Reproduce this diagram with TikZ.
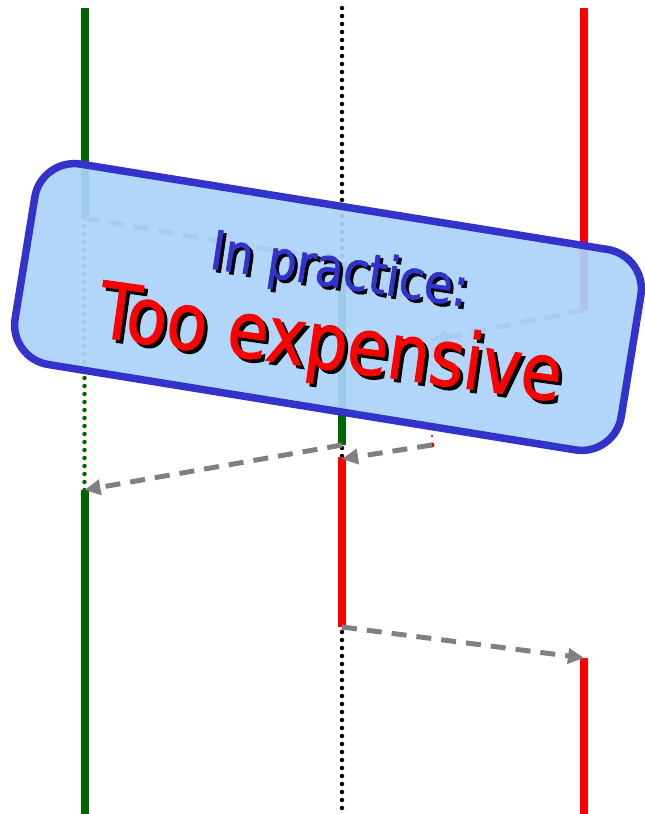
\documentclass[tikz,border=0pt]{standalone}
\usepackage{fontspec}
\newfontfamily\cond[FakeBold=1.2]{DejaVu Sans Condensed}
\usetikzlibrary{arrows.meta}
\definecolor{dgreen}{RGB}{0,102,0}
\definecolor{bblue}{RGB}{51,51,204}
\definecolor{boxfill}{RGB}{172,210,250}
\definecolor{agray}{RGB}{128,128,128}
\begin{document}
\begin{tikzpicture}[x=1pt,y=-1pt,
  solidline/.style={line width=8pt},
  dotline/.style={line width=4.5pt, line cap=round, dash pattern=on 0pt off 8pt},
  thindot/.style={line width=2.5pt, line cap=round, dash pattern=on 0pt off 8pt},
  msg/.style={draw=agray, line width=5pt, dash pattern=on 15pt off 10pt, -{Triangle[length=16pt,width=15pt,fill=agray]}},
  banner/.style={draw=bblue, fill=boxfill, fill opacity=0.93, line width=7.5pt, rounded corners=40pt, minimum width=614pt, minimum height=203pt, inner sep=0pt, rotate=-9.2},
  small/.style={font=\cond\fontsize{54}{60}\selectfont, anchor=base, inner sep=0pt, rotate=-8.5, xscale=0.95},
  big/.style={font=\cond\fontsize{78}{84}\selectfont, anchor=base, inner sep=0pt, rotate=-8, xscale=0.945},
]
\useasboundingbox (0,0) rectangle (645,814);
% coordinates
\coordinate (Ltop) at (84.5,8);
\coordinate (La) at (84.5,218);
\coordinate (Lb) at (84.5,490);
\coordinate (Lbot) at (84.5,816);
\coordinate (Mtop) at (342,8);
\coordinate (Ma) at (342,262);
\coordinate (Mb) at (342,445);
\coordinate (Mc) at (342,459);
\coordinate (Md) at (342,627);
\coordinate (Mbot) at (342,816);
\coordinate (Rtop) at (584,8);
\coordinate (Ra) at (584,310);
\coordinate (Rb) at (584,658);
\coordinate (Rbot) at (584,816);
\coordinate (Xa) at (432,340);
\coordinate (Xb) at (432,445);
% left process
\draw[dgreen, solidline] (Ltop) -- (La);
\draw[dgreen, dotline] (La) -- (Lb);
\draw[dgreen, solidline] (Lb) -- (Lbot);
% middle process
\draw[black, dotline] (Mtop) -- (Mbot);
\draw[dgreen, solidline] (Ma) -- (Mb);
\draw[red, solidline] ([yshift=2pt]Mc) -- (Md);
% right process
\draw[red, solidline] (Rtop) -- (Ra);
\draw[red, solidline] (Rb) -- (Rbot);
\draw[red, thindot] (Xa) -- (Xb);
\fill[red] (Xb) circle (2.5pt);
% messages
\draw[msg] (La) -- (Ma);
\draw[msg] (Ra) -- (Xa);
\draw[msg] (Mb) -- (Lb);
\draw[msg] (Xb) -- (Mc);
\draw[msg] (Md) -- (Rb);
% banner
\node[banner] (box) at (328,307) {};
\node[small, text=black] (t1s) at (340,290.5) {In practice:};
\node[small, text=bblue] (t1) at (337,287.5) {In practice:};
\node[big, text=black] (t2s) at (330.5,372.5) {Too expensive};
\node[big, text=red] (t2) at (327,369) {Too expensive};
\end{tikzpicture}
\end{document}
